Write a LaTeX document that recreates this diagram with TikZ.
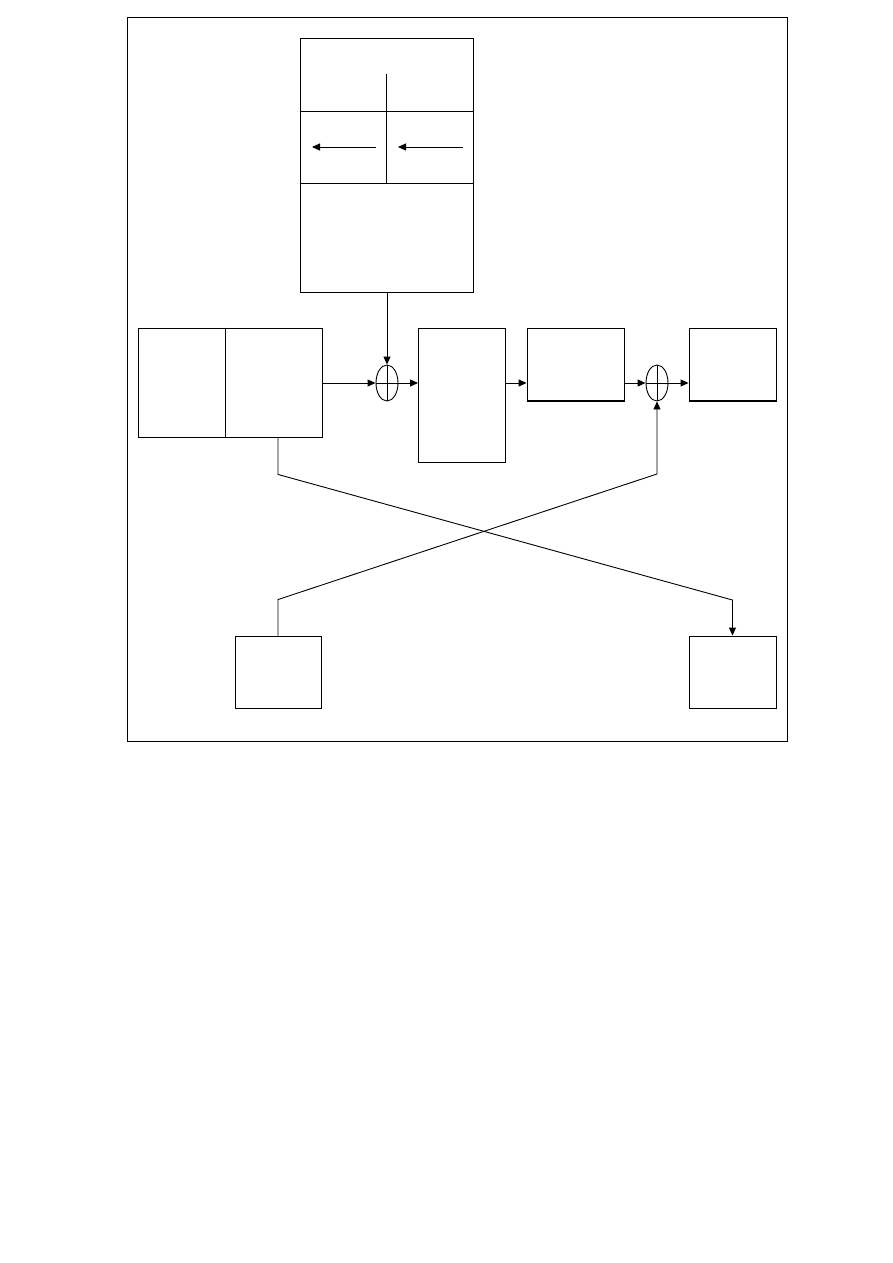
\documentclass[tikz,border=0pt]{standalone}
\usetikzlibrary{arrows.meta,positioning,shapes.geometric}
\begin{document}
\begin{tikzpicture}[x=1pt,y=-1pt,line width=0.9pt,
      blk/.style={rectangle,draw,inner sep=0pt,line width=0.9pt},
      sum/.style={ellipse,draw,inner sep=0pt,minimum width=22pt,minimum height=36pt,line width=0.9pt},
      arr/.style={-{Triangle[length=8pt,width=7pt]},line width=0.9pt},
      base/.style={line width=2pt}
    ]
    \useasboundingbox (0,0) rectangle (893,1263);
    \draw (127,17) rectangle (787,741);
    \node[blk,minimum width=173pt,minimum height=254pt] (mem) at (386.5,165) {};
    \node[blk,minimum width=184pt,minimum height=109pt] (src) at (230,382.5) {};
    \node[sum] (sum1) at (387,383) {};
    \node[blk,minimum width=87pt,minimum height=134pt] (mid) at (462,395) {};
    \node[blk,minimum width=97pt,minimum height=73pt] (stage) at (575.5,364.5) {};
    \node[sum] (sum2) at (657,383) {};
    \node[blk,minimum width=87pt,minimum height=73pt] (out) at (732.5,364.5) {};
    \node[blk,minimum width=86pt,minimum height=72pt] (fb) at (278,672) {};
    \node[blk,minimum width=87pt,minimum height=72pt] (fo) at (732.5,672) {};
    \draw (mem.west |- 0,111) -- (mem.east |- 0,111);
    \draw (mem.west |- 0,183) -- (mem.east |- 0,183);
    \draw (mem.center |- 0,74) -- (mem.center |- 0,183);
    \coordinate (l1) at (376,147);
    \coordinate (l2) at (312,147);
    \coordinate (r1) at (463,147);
    \coordinate (r2) at (398,147);
    \draw[arr] (l1) -- (l2);
    \draw[arr] (r1) -- (r2);
    \draw (src.north -| 225,0) -- (src.south -| 225,0);
    \draw[base] (stage.south west) -- (stage.south east);
    \draw[base] (out.south west) -- (out.south east);
    \draw (sum1.north) -- (sum1.south) (sum1.west) -- (sum1.east);
    \draw (sum2.north) -- (sum2.south) (sum2.west) -- (sum2.east);
    \draw[arr] (mem.south -| sum1) -- (sum1.north);
    \draw[arr] (src.east |- sum1) -- (sum1.west);
    \draw[arr] (sum1.east) -- (mid.west |- sum1);
    \draw[arr] (mid.east |- sum1) -- (stage.west |- sum1);
    \draw[arr] (stage.east |- sum2) -- (sum2.west);
    \draw[arr] (sum2.east) -- (out.west |- sum2);
    \draw[arr] (src.south -| fb.north) -- ++(0,37) -- (fo.north |- 0,600) -- (fo.north);
    \draw[arr] (fb.north) -- ++(0,-36) -- (sum2.south |- 0,474) -- (sum2.south);
  \end{tikzpicture}
\end{document}
